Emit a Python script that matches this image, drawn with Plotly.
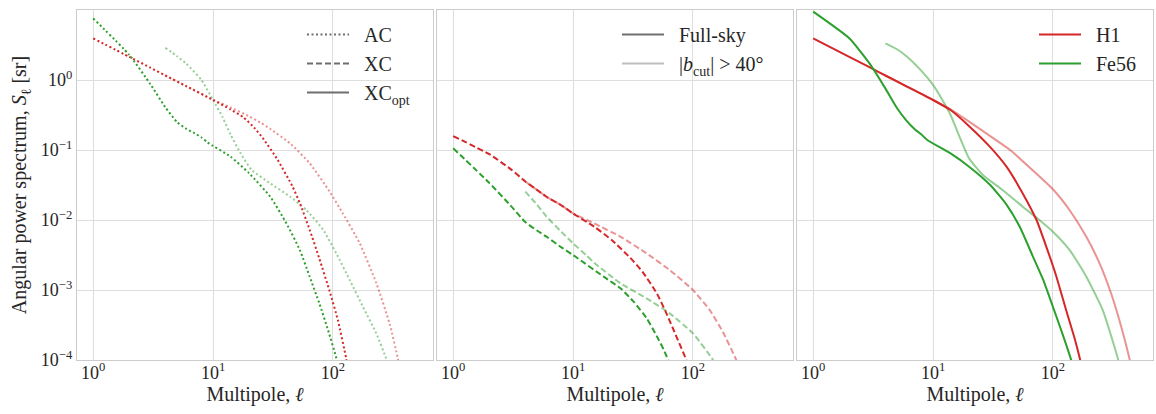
import plotly.graph_objects as go

# ---------------- data ----------------
# Panel 1: AC
ac_h1_l = [1, 2, 3, 4, 6, 10, 14, 18, 22, 26, 34, 46, 53, 64, 77, 94, 110, 129, 135]
ac_h1 = [3.94, 2.14, 1.50, 1.16, 0.813, 0.518, 0.38, 0.292, 0.209, 0.148, 0.0759, 0.0302, 0.0174, 0.00724, 0.00282, 0.000955, 0.000372, 0.000105, 0.000063]
ac_h1_cut_l = [4, 6, 10, 14, 20, 25, 30, 44, 64, 94, 121, 167, 230, 297, 348, 360]
ac_h1_cut = [1.16, 0.813, 0.525, 0.407, 0.302, 0.245, 0.2, 0.124, 0.0646, 0.0254, 0.0124, 0.00468, 0.00126, 0.000331, 0.000105, 0.0000708]
ac_fe_l = [1, 2, 3, 4, 5, 6, 7, 8, 9, 14, 20, 30, 41, 53, 64, 77, 91, 107, 110]
ac_fe = [7.59, 2.29, 0.871, 0.407, 0.251, 0.2, 0.174, 0.151, 0.128, 0.0804, 0.0465, 0.0215, 0.00891, 0.00372, 0.00155, 0.000646, 0.000269, 0.000105, 0.0000794]
ac_fe_cut_l = [4, 5, 6, 8, 10, 12, 14, 17, 21, 30, 44, 60, 83, 107, 138, 178, 230, 278, 290]
ac_fe_cut = [2.88, 2.19, 1.70, 1.0, 0.518, 0.295, 0.166, 0.0895, 0.0518, 0.0334, 0.0215, 0.0139, 0.00724, 0.00331, 0.00139, 0.000575, 0.00024, 0.000105, 0.0000794]

# Panel 2: XC
xc_h1_l = [1, 2, 3, 4, 5, 6, 8, 10, 15, 21, 30, 38, 50, 60, 73, 88, 92]
xc_h1 = [0.158, 0.0871, 0.0537, 0.0355, 0.0269, 0.0215, 0.0162, 0.0124, 0.00804, 0.00518, 0.00288, 0.00182, 0.000895, 0.000468, 0.000214, 0.0001, 0.0000759]
xc_h1_cut_l = [4, 5, 6, 8, 10, 15, 25, 41, 64, 100, 138, 178, 230, 240]
xc_h1_cut = [0.0355, 0.0269, 0.0215, 0.0162, 0.0124, 0.00895, 0.00575, 0.00334, 0.00193, 0.001, 0.000518, 0.000251, 0.0001, 0.0000794]
xc_fe_l = [1, 2, 3, 4, 5, 6, 8, 10, 11, 18, 25, 32, 41, 50, 57, 64]
xc_fe = [0.106, 0.0339, 0.0162, 0.00933, 0.00708, 0.00578, 0.00407, 0.00316, 0.00282, 0.00155, 0.00105, 0.000681, 0.000398, 0.000219, 0.000141, 0.0000891]
xc_fe_cut_l = [4, 5, 6, 8, 10, 13, 15, 25, 41, 64, 100, 147, 155]
xc_fe_cut = [0.0254, 0.0166, 0.0112, 0.00676, 0.00465, 0.00309, 0.00245, 0.00124, 0.00076, 0.000464, 0.00024, 0.0001, 0.0000794]

# Panel 3: XC_opt
xo_h1_l = [1, 2, 3, 4, 6, 10, 14, 20, 30, 41, 56, 73, 88, 107, 129, 151, 170, 180]
xo_h1 = [3.94, 2.14, 1.50, 1.16, 0.813, 0.518, 0.372, 0.219, 0.11, 0.0578, 0.024, 0.01, 0.00417, 0.00155, 0.000513, 0.000209, 0.0000955, 0.000063]
xo_h1_cut_l = [4, 6, 10, 14, 20, 30, 44, 64, 100, 138, 190, 245, 306, 371, 435, 450]
xo_h1_cut = [1.16, 0.813, 0.518, 0.38, 0.254, 0.158, 0.1, 0.0562, 0.0275, 0.0138, 0.00575, 0.0024, 0.000891, 0.000302, 0.000105, 0.0000794]
xo_fe_l = [1, 2, 3, 4, 5, 6, 7, 8, 9, 14, 20, 30, 41, 53, 68, 83, 100, 121, 142, 147]
xo_fe = [9.46, 3.94, 1.66, 0.759, 0.398, 0.263, 0.2, 0.166, 0.138, 0.0895, 0.0578, 0.0316, 0.0166, 0.00794, 0.00302, 0.00139, 0.000575, 0.000229, 0.0001, 0.0000794]
xo_fe_cut_l = [4, 5, 6, 8, 10, 12, 14, 16, 20, 26, 38, 56, 77, 100, 138, 190, 261, 348, 360]
xo_fe_cut = [3.34, 2.75, 2.19, 1.35, 0.851, 0.513, 0.316, 0.182, 0.0759, 0.044, 0.0269, 0.0155, 0.01, 0.00681, 0.00372, 0.00155, 0.000513, 0.000105, 0.0000794]

x_tick_vals = [1, 10, 100]
x_tick_text = ["10<sup>0</sup>", "10<sup>1</sup>", "10<sup>2</sup>"]
y_tick_vals = [1e-4, 1e-3, 1e-2, 1e-1, 1, 10]
y_tick_text = ["10<sup>−4</sup>", "10<sup>−3</sup>", "10<sup>−2</sup>", "10<sup>−1</sup>", "10<sup>0</sup>", "10<sup>1</sup>"]

# ---------------- styling ----------------
RED = "rgb(214,39,40)"
RED_L = "rgba(214,39,40,0.5)"
GREEN = "rgb(44,160,44)"
GREEN_L = "rgba(44,160,44,0.5)"
DOT = "2px,2.5px"
DASH = "6px,3px"
FONT = "Liberation Serif"
TXT = "#262626"
W = 2
NB = "\u00a0\u00a0"

fig = go.Figure()

panels = [
    ("x", "y", DOT, [(ac_h1_cut_l, ac_h1_cut, RED_L), (ac_fe_cut_l, ac_fe_cut, GREEN_L),
                     (ac_h1_l, ac_h1, RED), (ac_fe_l, ac_fe, GREEN)]),
    ("x2", "y2", DASH, [(xc_h1_cut_l, xc_h1_cut, RED_L), (xc_fe_cut_l, xc_fe_cut, GREEN_L),
                        (xc_h1_l, xc_h1, RED), (xc_fe_l, xc_fe, GREEN)]),
    ("x3", "y3", "solid", [(xo_h1_cut_l, xo_h1_cut, RED_L), (xo_fe_cut_l, xo_fe_cut, GREEN_L),
                           (xo_h1_l, xo_h1, RED), (xo_fe_l, xo_fe, GREEN)]),
]
for xa, ya, dash, curves in panels:
    for lx, ly, col in curves:
        fig.add_trace(go.Scatter(x=lx, y=ly, xaxis=xa, yaxis=ya, mode="lines",
                                 line=dict(color=col, width=W, dash=dash, shape="spline", smoothing=0.5),
                                 showlegend=False, hoverinfo="skip"))

# legend entries
LEG_GRAY = "rgb(110,110,110)"
for name, dash in [("AC", DOT), ("XC", DASH), ("XC<sub>opt</sub>", "solid")]:
    fig.add_trace(go.Scatter(x=[None], y=[None], mode="lines", name=NB + name, legend="legend",
                             line=dict(color=LEG_GRAY, width=W, dash=dash)))
for name, col in [("Full-sky", LEG_GRAY), ("|<i>b</i><sub>cut</sub>| > 40°", "rgb(190,190,190)")]:
    fig.add_trace(go.Scatter(x=[None], y=[None], mode="lines", name=NB + name, legend="legend2",
                             xaxis="x2", yaxis="y2", line=dict(color=col, width=W)))
for name, col in [("H1", RED), ("Fe56", GREEN)]:
    fig.add_trace(go.Scatter(x=[None], y=[None], mode="lines", name=NB + name, legend="legend3",
                             xaxis="x3", yaxis="y3", line=dict(color=col, width=W)))

L, R, T, B = 77, 3, 10, 54
PW = 1156 - L - R
doms = [[0, 356 / PW], [360 / PW, 716 / PW], [720 / PW, 1]]

axis_common = dict(type="log", showgrid=True, gridcolor="rgb(222,222,222)", gridwidth=1,
                   showline=True, linecolor="rgb(204,204,204)", linewidth=1.3, mirror=True,
                   ticks="", zeroline=False, tickfont=dict(family=FONT, size=18, color=TXT))

layout = dict(width=1156, height=414, margin=dict(l=L, r=R, t=T, b=B),
              plot_bgcolor="white", paper_bgcolor="white",
              font=dict(family=FONT, size=18, color=TXT))
for i, dom in enumerate(doms):
    sfx = "" if i == 0 else str(i + 1)
    layout["xaxis" + sfx] = dict(axis_common, domain=dom, range=[-0.135, 2.835],
                                 tickvals=x_tick_vals, ticktext=x_tick_text,
                                 anchor="y" + sfx, ticklabelstandoff=-4,
                                 title=dict(text="Multipole, <i>ℓ</i>", standoff=0,
                                            font=dict(family=FONT, size=20, color=TXT)))
    layout["yaxis" + sfx] = dict(axis_common, domain=[0, 1], range=[-4, 1],
                                 tickvals=y_tick_vals, ticktext=y_tick_text,
                                 anchor="x" + sfx, showticklabels=(i == 0))
layout["yaxis"]["title"] = dict(text="Angular power spectrum, <i>S</i><sub>ℓ</sub> [sr]",
                                font=dict(family=FONT, size=20, color=TXT), standoff=8)

leg_common = dict(bgcolor="rgba(0,0,0,0)", borderwidth=0, itemwidth=42, xanchor="left", yanchor="top",
                  font=dict(family=FONT, size=20, color=TXT), tracegroupgap=0)
layout["legend"] = dict(leg_common, x=(302 - L) / PW, y=1 - (15 - T) / 350)
layout["legend2"] = dict(leg_common, x=(617 - L) / PW, y=1 - (15 - T) / 350)
layout["legend3"] = dict(leg_common, x=(1034 - L) / PW, y=1 - (15 - T) / 350)

fig.update_layout(**layout)
fig.write_html("out.html")
